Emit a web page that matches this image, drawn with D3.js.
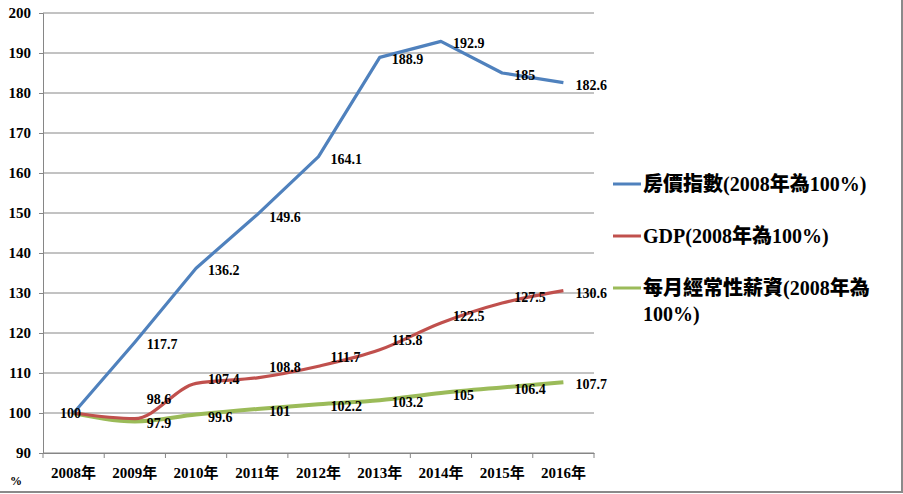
<html>
<head>
<meta charset="utf-8">
<style>
  body { margin: 0; background: #fff; }
  text { font-family: "Liberation Serif", serif; font-weight: bold; fill: #000; }
  .leg { font-family: "Liberation Serif", "Noto Sans CJK TC", serif; font-weight: 900; font-size: 20px; }
</style>
</head>
<body>
<div id="chart"></div>
<script src="https://d3js.org/d3.v7.min.js"></script>
<script>
var years = ["2008年", "2009年", "2010年", "2011年", "2012年", "2013年", "2014年", "2015年", "2016年"];
var houseIndex = [100, 117.7, 136.2, 149.6, 164.1, 188.9, 192.9, 185, 182.6];
var gdp = [100, 98.6, 107.4, 108.8, 111.7, 115.8, 122.5, 127.5, 130.6];
var wage = [100, 97.9, 99.6, 101, 102.2, 103.2, 105, 106.4, 107.7];
var yTicks = [90, 100, 110, 120, 130, 140, 150, 160, 170, 180, 190, 200];
var legendNames = ["房價指數(2008年為100%)", "GDP(2008年為100%)", "每月經常性薪資(2008年為", "100%)"];

// label vertical nudges (px)
var gdpLabelDy = [0, -20, -4, -11, -9, -10, -7, -6, 2];

var svg = d3.select('#chart').append('svg')
    .attr('width', 903).attr('height', 494);

var x = d3.scaleBand().domain(years).range([43, 594]);
var y = d3.scaleLinear().domain([90, 200]).range([453, 13]);
var cx = function (i) { return x(years[i]) + x.bandwidth() / 2; };

// border of chart area
svg.append('line').attr('x1', 902).attr('x2', 902).attr('y1', 0).attr('y2', 492)
    .attr('stroke', '#8a8a8a').attr('stroke-width', 2);
svg.append('line').attr('x1', 0).attr('x2', 903).attr('y1', 492).attr('y2', 492)
    .attr('stroke', '#8a8a8a').attr('stroke-width', 2);

// gridlines
svg.selectAll('.grid').data(yTicks).enter().append('line')
    .attr('x1', 43).attr('x2', 594)
    .attr('y1', function (d) { return y(d); }).attr('y2', function (d) { return y(d); })
    .attr('stroke', '#868686').attr('stroke-width', 1);

// y axis
var yAxis = svg.append('g').attr('transform', 'translate(43,0)')
    .call(d3.axisLeft(y).tickValues(yTicks).tickSize(4).tickPadding(8));
yAxis.select('.domain').attr('stroke', '#868686');
yAxis.selectAll('.tick line').attr('stroke', '#868686');
yAxis.selectAll('text').style('font-size', '15px').style('font-family', '"Liberation Serif", serif')
    .style('font-weight', 'bold').attr('fill', '#000');

// x axis
var xAxis = svg.append('g').attr('transform', 'translate(0,453)')
    .call(d3.axisBottom(x).tickSize(0).tickPadding(14));
xAxis.select('.domain').attr('stroke', '#868686');
xAxis.selectAll('text').style('font-size', '15px').style('font-family', '"Liberation Serif", "Noto Sans CJK TC", serif')
    .style('font-weight', 'bold').attr('fill', '#000');
var bounds = years.map(function (d) { return x(d); }).concat([594]);
xAxis.selectAll('.bnd').data(bounds).enter().append('line')
    .attr('x1', function (d) { return d; }).attr('x2', function (d) { return d; })
    .attr('y1', 0).attr('y2', 5).attr('stroke', '#868686');

svg.append('text').attr('x', 16).attr('y', 485).attr('text-anchor', 'middle')
    .style('font-size', '12px').text('%');

var series = [
    { vals: wage, color: '#9bbb59', curve: d3.curveMonotoneX, dy: null, w: 4 },
    { vals: gdp, color: '#c0504d', curve: d3.curveMonotoneX, dy: gdpLabelDy, w: 3.2 },
    { vals: houseIndex, color: '#4f81bd', curve: d3.curveLinear, dy: null, w: 3.2 }
];

series.forEach(function (s) {
    var line = d3.line()
        .x(function (d, i) { return cx(i); })
        .y(function (d) { return y(d); })
        .curve(s.curve);
    svg.append('path').datum(s.vals).attr('d', line)
        .attr('fill', 'none').attr('stroke', s.color)
        .attr('stroke-width', s.w)
        .attr('stroke-linejoin', 'round');
});

series.forEach(function (s) {
    svg.selectAll(null).data(s.vals.slice(1)).enter().append('text')
        .attr('x', function (d, i) { return cx(i + 1) + 12; })
        .attr('y', function (d, i) { return y(d) + (s.dy ? s.dy[i + 1] : 2); })
        .attr('dy', '0.35em')
        .style('font-size', '14px')
        .text(function (d) { return d; });
});
svg.append('text').attr('x', cx(0) - 3).attr('y', y(wage[0])).attr('dy', '0.35em')
    .attr('text-anchor', 'middle').style('font-size', '14px').text(wage[0]);

// legend
var legColors = ['#4f81bd', '#c0504d', '#9bbb59'];
var legY = [184, 236, 288];
legColors.forEach(function (c, i) {
    svg.append('line').attr('x1', 613).attr('x2', 641)
        .attr('y1', legY[i]).attr('y2', legY[i])
        .attr('stroke', c).attr('stroke-width', 3);
    svg.append('text').attr('class', 'leg').attr('x', 643).attr('y', legY[i]).attr('dy', '0.36em')
        .text(legendNames[i]);
});
svg.append('text').attr('class', 'leg').attr('x', 643).attr('y', legY[2] + 26).attr('dy', '0.36em')
    .text(legendNames[3]);
</script>
</body>
</html>
